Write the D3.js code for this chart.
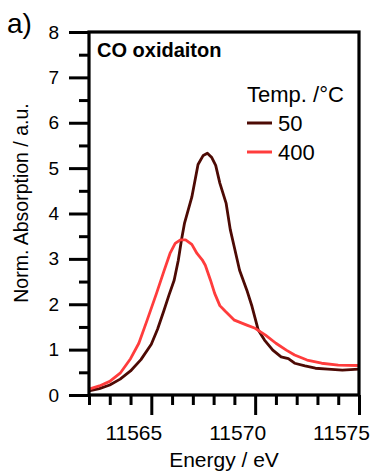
<!DOCTYPE html>
<html lang='en'>
  <head>
    <meta charset='utf-8'>
    <title>CO oxidation XANES</title>
    <script type='text/javascript' src='https://cdn.jsdelivr.net/npm/d3@7/dist/d3.min.js'></script>
    <style type='text/css'>
      body { margin: 0; background: white; }
      svg { display: block; font-family: 'Liberation Sans', Arial, sans-serif; }
    </style>
  </head>
  <body>
    <div id='chart'></div>
    <script type='text/javascript'>

    // data
    var energy50 = [11562, 11562.5, 11563, 11563.5, 11564, 11564.5, 11565, 11565.3, 11565.6, 11565.85,
                    11566.1, 11566.3, 11566.45, 11566.6, 11566.95, 11567.25, 11567.5, 11567.7, 11567.9,
                    11568.1, 11568.3, 11568.6, 11568.8, 11569.0, 11569.25, 11569.6, 11569.85, 11570.15,
                    11570.45, 11570.85, 11571.25, 11571.6, 11571.9, 11572.4, 11572.9, 11573.5, 11574.2, 11575];
    var absorb50 = [0.09, 0.14, 0.22, 0.35, 0.53, 0.78, 1.12, 1.45, 1.85, 2.2,
                    2.53, 2.97, 3.41, 3.79, 4.36, 5.08, 5.28, 5.33, 5.24,
                    5.06, 4.67, 4.23, 3.65, 3.25, 2.75, 2.31, 1.95, 1.43,
                    1.21, 0.99, 0.84, 0.8, 0.7, 0.64, 0.59, 0.57, 0.55, 0.57];

    var energy400 = [11562, 11562.5, 11563, 11563.5, 11564, 11564.4, 11564.8, 11565.25, 11565.6, 11565.9,
                     11566.15, 11566.4, 11566.65, 11566.95, 11567.2, 11567.45, 11567.6, 11567.85, 11568.05,
                     11568.3, 11568.55, 11569.0, 11569.6, 11570.0, 11570.5, 11571.0, 11571.5, 11571.9,
                     11572.5, 11573.2, 11574.0, 11575];
    var absorb400 = [0.13, 0.2, 0.3, 0.48, 0.8, 1.14, 1.65, 2.24, 2.72, 3.12,
                     3.34, 3.42, 3.42, 3.32, 3.12, 2.98, 2.86, 2.53, 2.24,
                     1.97, 1.85, 1.65, 1.54, 1.47, 1.32, 1.14, 0.99, 0.88,
                     0.77, 0.7, 0.66, 0.65];

    var temps = ['50', '400'];
    var colors = ['#4d0a04', '#ff3c3c'];
    var yTicks = [0, 1, 2, 3, 4, 5, 6, 7, 8];
    var xTicks = [11565, 11570, 11575];

    // Dimensions
    var W = 374, H = 472;
    var margin = { top: 32, right: 15, bottom: 77, left: 89 },
        width = W - margin.left - margin.right,
        height = H - margin.top - margin.bottom;

    var svg = d3.select('#chart')
        .append('svg')
        .attr('width', W)
        .attr('height', H);

    var g = svg.append('g')
        .attr('transform', 'translate(' + margin.left + ',' + margin.top + ')');

    // Scales
    var xScale = d3.scaleLinear().domain([11562, 11575]).range([0, width]);
    var yScale = d3.scaleLinear().domain([0, 8]).range([height, 0]);
    var colorScale = d3.scaleOrdinal().domain(temps).range(colors);

    // Axes: major ticks long, minor ticks short
    var yMajor = d3.axisLeft(yScale).tickValues(yTicks).tickSize(20).tickPadding(10).tickFormat(d3.format('d'));
    var yMinor = d3.axisLeft(yScale).tickValues(d3.range(0.5, 8, 1)).tickSize(10).tickFormat('');
    var xMajor = d3.axisBottom(xScale).tickValues(xTicks).tickSize(20).tickPadding(10).tickFormat(d3.format('d'));
    var xMinor = d3.axisBottom(xScale).tickValues(d3.range(11562, 11576, 1).filter(function(d) { return xTicks.indexOf(d) < 0; }))
        .tickSize(10).tickFormat('');

    function styleAxis(sel, fs) {
      sel.select('.domain').remove();
      sel.selectAll('line').attr('stroke', '#000').attr('stroke-width', 3);
      sel.selectAll('text').attr('fill', '#000').style('font-size', fs + 'px');
    }

    g.append('g').call(yMinor).call(styleAxis, 19);
    g.append('g').call(yMajor).call(styleAxis, 19);
    g.append('g').attr('transform', 'translate(0,' + height + ')').call(xMinor).call(styleAxis, 21);
    var xg = g.append('g').attr('transform', 'translate(0,' + height + ')').call(xMajor).call(styleAxis, 21);
    // labels in the original sit a bit left of their ticks
    xg.selectAll('text').attr('x', -18);

    // curves
    var line = d3.line()
      .x(function(d) { return xScale(d[0]); })
      .y(function(d) { return yScale(d[1]); });

    var series = [
      { temp: '50', pts: d3.zip(energy50, absorb50) },
      { temp: '400', pts: d3.zip(energy400, absorb400) }
    ];

    g.append('g').selectAll('path')
      .data(series)
      .enter()
      .append('path')
      .attr('d', function(d) { return line(d.pts); })
      .attr('fill', 'none')
      .attr('stroke', function(d) { return colorScale(d.temp); })
      .attr('stroke-width', 2.8)
      .attr('stroke-linejoin', 'round');

    // frame
    g.append('rect')
      .attr('x', 0).attr('y', 0)
      .attr('width', width).attr('height', height)
      .attr('fill', 'none')
      .attr('stroke', '#000')
      .attr('stroke-width', 3.2);

    // titles
    svg.append('text')
      .attr('x', (margin.left + margin.left + width) / 2)
      .attr('y', 467)
      .attr('text-anchor', 'middle')
      .style('font-size', '21px')
      .text('Energy / eV');

    svg.append('text')
      .attr('transform', 'translate(28,203) rotate(-90)')
      .attr('text-anchor', 'middle')
      .style('font-size', '19.5px')
      .text('Norm. Absorption / a.u.');

    svg.append('text')
      .attr('x', 7).attr('y', 33)
      .style('font-size', '28px')
      .text('a)');

    g.append('text')
      .attr('x', 8).attr('y', 25)
      .style('font-size', '20px')
      .style('font-weight', 'bold')
      .text('CO oxidaiton');

    // legend
    var legend = g.append('g').attr('transform', 'translate(158,0)');
    legend.append('text')
      .attr('x', 0).attr('y', 70)
      .style('font-size', '22px')
      .text('Temp. /°C');

    var rows = legend.selectAll('.row')
      .data(temps)
      .enter()
      .append('g')
      .attr('class', 'row')
      .attr('transform', function(d, i) { return 'translate(0,' + (91 + i * 29) + ')'; });

    rows.append('line')
      .attr('x1', 0).attr('x2', 25)
      .attr('stroke', function(d) { return colorScale(d); })
      .attr('stroke-width', 3);

    rows.append('text')
      .attr('x', 31).attr('y', 8)
      .style('font-size', '22px')
      .text(function(d) { return d; });

    </script>
  </body>
</html>
